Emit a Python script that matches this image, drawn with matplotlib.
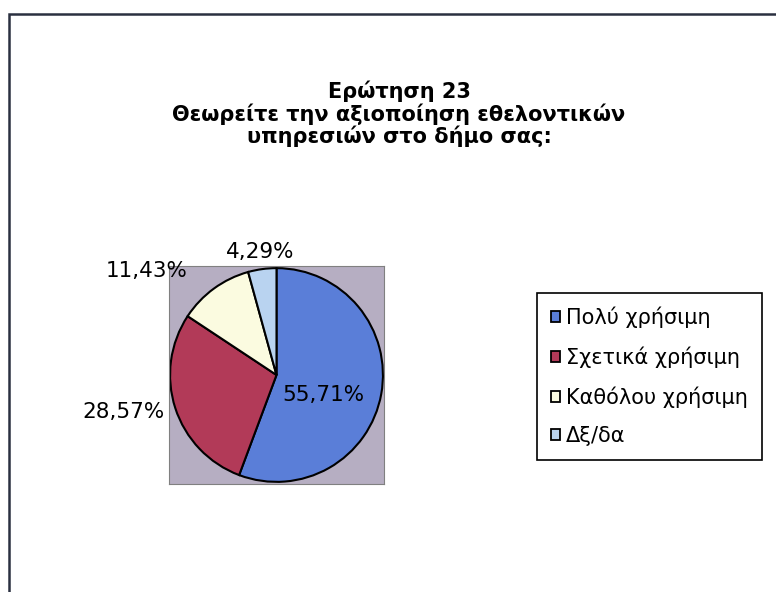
import matplotlib
matplotlib.use("Agg")
import matplotlib.pyplot as plt
from matplotlib.patches import Rectangle, Patch
import numpy as np

plt.rcParams['font.family'] = ['DejaVu Sans']

categories = ["Πολύ χρήσιμη", "Σχετικά χρήσιμη", "Καθόλου χρήσιμη", "Δξ/δα"]
values = [55.71, 28.57, 11.43, 4.29]
labels = ["55,71%", "28,57%", "11,43%", "4,29%"]
colors = ["#5A7ED8", "#B23A58", "#FBFBE0", "#B9D3F0"]
title = "Ερώτηση 23\nΘεωρείτε την αξιοποίηση εθελοντικών\nυπηρεσιών στο δήμο σας:"

W, H = 776, 592
fig = plt.figure(figsize=(W/100, H/100), dpi=100)
fig.patch.set_facecolor("white")

# outer chart frame (right and bottom edges lie outside the picture)
fig.add_artist(Rectangle((9/W, -0.02), 1.0, 1 - 14/H + 0.02,
                         transform=fig.transFigure, fill=False,
                         edgecolor="#2A3040", linewidth=1.8))

fig.text(399/W, 1 - 114/H, title, ha="center", va="center",
         fontsize=15, fontweight="bold", linespacing=1.05)

ax = fig.add_axes([169/W, 1 - 484/H, 215/W, 218/H])
wedges, _ = ax.pie(values, colors=colors, startangle=90, counterclock=False,
                   radius=1.0, wedgeprops=dict(edgecolor="black", linewidth=1.5))
ax.set_frame_on(True)
ax.set_facecolor("#B6AEC2")
ax.set_xlim(-1.01, 1.01)
ax.set_ylim(-1.02, 1.02)
ax.set_aspect("auto")
ax.set_xticks([]); ax.set_yticks([])
for s in ax.spines.values():
    s.set_visible(True)
    s.set_edgecolor("#808080"); s.set_linewidth(0.8)

label_pos = [(323, 395), (124, 412), (147, 271), (260, 252)]
for lab, (x, y) in zip(labels, label_pos):
    fig.text(x/W, 1 - y/H, lab, ha="center", va="center", fontsize=15.5)

handles = [Patch(facecolor=c, edgecolor="black", linewidth=1.3) for c in colors]
leg = fig.legend(handles, categories, loc="upper left",
                 bbox_to_anchor=(537/W, 1 - 293/H), fontsize=15,
                 handlelength=0.45, handleheight=0.45, handletextpad=0.3,
                 labelspacing=0.88, borderpad=0.65, borderaxespad=0,
                 fancybox=False, frameon=True, edgecolor="black", framealpha=1)
leg.get_frame().set_linewidth(1.2)

fig.savefig("out.png", dpi=100)
